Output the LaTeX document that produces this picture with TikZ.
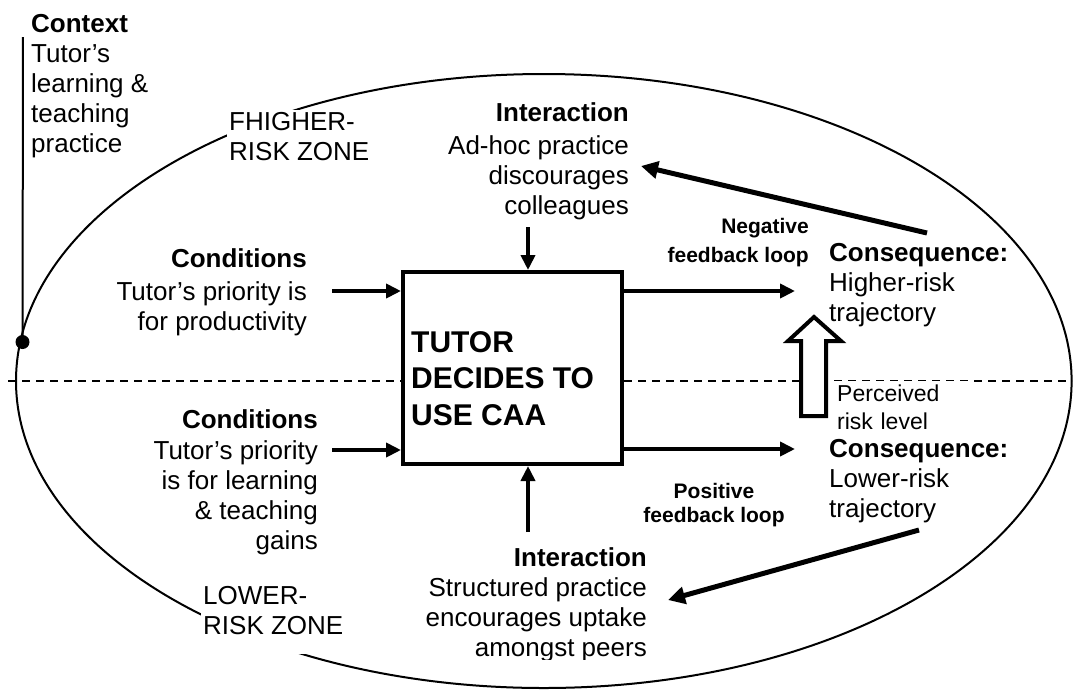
\documentclass[tikz,border=0pt]{standalone}
\usepackage{fontspec}
\setmainfont{Liberation Sans}
\usetikzlibrary{arrows.meta}
\begin{document}
\begin{tikzpicture}[x=1pt,y=-1pt,
  lbl/.style={inner sep=0pt,font=\fontsize{26}{30}\selectfont},
  smallb/.style={inner sep=0pt},
  arr/.style={line width=4pt,-{Triangle[length=15pt,width=14pt]}},
  darr/.style={line width=5pt,-{Triangle[length=17pt,width=17pt]}},
  zone/.style={fill=white,inner sep=2pt,align=left,font=\fontsize{26}{30}\selectfont}]
\useasboundingbox (0,0) rectangle (1078,689);
% zone ellipse and divider
\draw[line width=2pt] (543.8,381) ellipse [x radius=527.8, y radius=307];
\draw[line width=1.5pt, dash pattern=on 8pt off 6pt] (8,381) coordinate (dl) -- (1072,381) coordinate (dr);
% context
\coordinate (ctxtop) at (23,37);
\node[circle,fill,inner sep=0pt,minimum size=14pt] (dot) at (22.5,342) {};
\draw[line width=2pt] (ctxtop) -- (dot.center);
\node[lbl,anchor=base west,align=left] (ctx) at (31,152) {\textbf{Context}\\Tutor’s\\learning \&\\teaching\\practice};
% zone labels
\node[zone,anchor=base west] (hz) at (227,160) {FHIGHER-\\RISK ZONE};
\node[zone,anchor=base west] (lz) at (201,634) {LOWER-\\RISK ZONE\rule[-18pt]{0pt}{1pt}};
% central box
\node[draw,line width=4pt,fill=white,minimum width=219pt,minimum height=192pt,inner sep=0pt] (box) at (512.5,368) {};
\node[anchor=base west,inner sep=0pt,align=left,font=\bfseries\fontsize{30}{36.5}\selectfont] (boxtxt) at (411,425) {TUTOR\\DECIDES TO\\USE CAA};
% conditions
\node[lbl,anchor=base east,align=right] (cond1) at (307,330) {\textbf{Conditions}\\[3pt]Tutor’s priority is\\for productivity};
\node[lbl,anchor=base east,align=right] (cond2) at (318,549) {\textbf{Conditions}\\[1pt]Tutor’s priority\\is for learning\\\& teaching\\gains};
\coordinate (c1s) at (332,291);
\coordinate (c2s) at (332,450);
\draw[arr] (c1s) -- (c1s -| box.west);
\draw[arr] (c2s) -- (c2s -| box.west);
% interactions
\node[lbl,anchor=base east,align=right] (int1) at (629,214) {\textbf{Interaction}\\[3pt]Ad-hoc practice\\discourages\\colleagues};
\coordinate (i1s) at (528,227);
\draw[arr] (i1s) -- (i1s |- box.north);
\begin{scope}
\clip (380,530) rectangle (700,659);
\node[lbl,anchor=base east,align=right] (int2) at (647,656) {\textbf{Interaction}\\Structured practice\\encourages uptake\\amongst peers};
\end{scope}
\coordinate (i2s) at (528,532);
\draw[arr] (i2s) -- (i2s |- box.south);
% outputs
\coordinate (o1e) at (795,291);
\draw[arr] (o1e -| box.east) -- (o1e);
\coordinate (o2e) at (795,449);
\draw[arr] (o2e -| box.east) -- (o2e);
\node[smallb,anchor=base east,align=right,font=\bfseries\fontsize{21}{29}\selectfont] (neg) at (809,262) {Negative\\feedback loop};
\node[smallb,anchor=base,align=center,font=\bfseries\fontsize{21}{24}\selectfont] (pos) at (714,522) {Positive\\feedback loop};
% consequences
\node[lbl,anchor=base west,align=left] (con1) at (829,321) {\textbf{Consequence:}\\Higher-risk\\trajectory};
\node[lbl,anchor=base west,align=left] (con2) at (829,517) {\textbf{Consequence:}\\Lower-risk\\trajectory};
% perceived risk level
\node[fill=white,anchor=base west,inner xsep=3pt,inner ysep=3pt,text width=133pt,align=left,font=\fontsize{23}{28}\selectfont] (per) at (834,401) {Perceived\\risk level};
\draw[line width=4pt,fill=white,line join=miter] (814,317) -- (841,341) -- (826,341) -- (826,416) -- (801,416) -- (801,341) -- (788,341) -- cycle;
% feedback arrows
\coordinate (d1s) at (927,233);
\coordinate (d1e) at (641,166);
\draw[darr] (d1s) -- (d1e);
\coordinate (d2s) at (919,530);
\coordinate (d2e) at (668,600);
\draw[darr] (d2s) -- (d2e);
\end{tikzpicture}
\end{document}
